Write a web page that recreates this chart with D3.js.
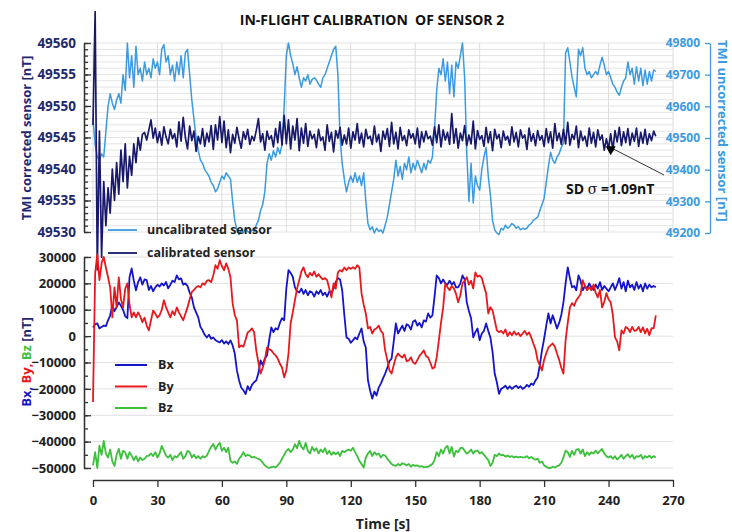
<!DOCTYPE html>
<html>
<head>
<meta charset="utf-8">
<script src="https://cdn.jsdelivr.net/npm/d3@7"></script>
<style>
    body { margin: 0; background: #ffffff; }
    svg { font-family: "Open Sans", sans-serif; font-weight: bold; }
</style>
</head>
<body>
<div id="chart"></div>
<script>

// one sample per second, t = 0 .. 262 s
const sampleStep = 1;

// TMI corrected (calibrated) sensor [nT], left axis
const calibrated = [
    49547, 49565, 49524, 49546, 49526, 49538, 49531, 49537, 49533, 49540,
    49535, 49541, 49536, 49543, 49538, 49544, 49537, 49542, 49539, 49544,
    49541, 49545, 49543, 49545.5, 49545.8, 49544.6, 49546.2, 49547.8, 49544.9, 49546.5,
    49544.2, 49545.9, 49543.8, 49546.7, 49545.1, 49544.0, 49546.3, 49544.8, 49545.6, 49543.5,
    49547.5, 49544.4, 49548.2, 49545.0, 49543.2, 49546.8, 49544.5, 49546.0, 49542.8, 49545.2,
    49544.0, 49546.4, 49543.6, 49545.7, 49544.3, 49546.9, 49543.1, 49547.0, 49544.6, 49548.3,
    49544.2, 49547.6, 49543.4, 49546.2, 49542.6, 49545.5, 49544.1, 49546.6, 49544.8, 49543.3,
    49545.9, 49544.7, 49546.3, 49543.9, 49545.2, 49544.5, 49546.1, 49548.0, 49544.3, 49545.6,
    49543.0, 49546.0, 49544.7, 49545.3, 49543.5, 49546.4, 49544.2, 49547.5, 49543.8, 49548.5,
    49544.0, 49547.8, 49543.2, 49546.8, 49544.6, 49548.0, 49542.9, 49546.5, 49544.1, 49547.2,
    49543.6, 49546.0, 49544.8, 49545.5, 49543.4, 49546.3, 49544.5, 49545.1, 49543.0, 49547.0,
    49544.4, 49545.8, 49542.7, 49546.1, 49544.9, 49546.6, 49543.8, 49545.4, 49544.0, 49546.5,
    49543.3, 49545.9, 49544.6, 49547.2, 49544.1, 49545.7, 49543.5, 49546.3, 49544.8, 49545.2,
    49543.9, 49546.8, 49544.3, 49545.5, 49542.8, 49546.0, 49544.7, 49546.4, 49543.6, 49547.4,
    49544.0, 49545.8, 49543.2, 49546.6, 49544.5, 49545.3, 49543.7, 49546.2, 49544.9, 49545.6,
    49544.0, 49546.5, 49543.4, 49545.9, 49544.3, 49546.0, 49544.8, 49545.2, 49543.8, 49546.7,
    49544.2, 49547.0, 49543.5, 49546.2, 49544.6, 49545.8, 49543.9, 49548.8, 49544.1, 49546.4,
    49543.3, 49545.7, 49544.5, 49546.9, 49543.7, 49545.4, 49544.0, 49547.6, 49543.2, 49546.1,
    49544.7, 49545.3, 49543.6, 49546.6, 49544.2, 49545.9, 49542.9, 49546.3, 49544.8, 49545.5,
    49543.4, 49546.0, 49544.6, 49545.2, 49543.8, 49546.7, 49544.3, 49545.8, 49543.5, 49546.2,
    49544.9, 49545.4, 49543.1, 49546.5, 49544.4, 49545.6, 49543.7, 49546.1, 49544.6, 49545.3,
    49543.6, 49546.4, 49544.2, 49545.9, 49543.3, 49547.2, 49544.5, 49545.7, 49543.9, 49546.3,
    49544.0, 49547.4, 49543.8, 49545.5, 49544.7, 49546.8, 49543.4, 49546.0, 49544.5, 49545.2,
    49543.6, 49546.5, 49544.1, 49545.8, 49543.5, 49546.2, 49544.6, 49545.4, 49543.0, 49544.8,
    49543.2, 49545.6, 49542.9, 49546.1, 49544.3, 49546.6, 49543.7, 49545.9, 49544.2, 49546.4,
    49543.8, 49545.7, 49544.4, 49546.5, 49543.6, 49545.8, 49544.1, 49546.3, 49543.9, 49545.6,
    49544.5, 49546.0, 49545.2
];

// TMI uncorrected (uncalibrated) sensor [nT], right axis
const uncalibrated = [
    49560, 49480, 49440, 49430, 49450, 49440, 49520, 49600, 49640, 49610,
    49590, 49620, 49640, 49610, 49700, 49650, 49800, 49690, 49760, 49660,
    49790, 49700, 49720, 49680, 49740, 49700, 49720, 49690, 49750, 49720,
    49740, 49700, 49780, 49795, 49740, 49760, 49700, 49730, 49680, 49740,
    49700, 49760, 49690, 49770, 49780, 49700, 49620, 49560, 49500, 49460,
    49430, 49420, 49400, 49390, 49380, 49360, 49350, 49330, 49340, 49360,
    49380, 49370, 49390, 49380, 49370, 49300, 49240, 49210, 49195, 49210,
    49200, 49215, 49205, 49200, 49210, 49205, 49225, 49240, 49270, 49290,
    49330, 49420, 49450, 49430, 49460, 49440, 49470, 49450, 49480, 49600,
    49760, 49800, 49760, 49735, 49700, 49725, 49690, 49660, 49690, 49680,
    49700, 49670, 49685, 49690, 49683, 49670, 49660, 49690, 49700, 49720,
    49740, 49760, 49780, 49790, 49700, 49500, 49420, 49370, 49330, 49360,
    49380, 49360, 49390, 49360, 49380, 49350, 49390, 49300, 49230, 49210,
    49220, 49200, 49215, 49205, 49210, 49200, 49225, 49250, 49290, 49330,
    49370, 49430, 49380, 49410, 49370, 49420, 49400, 49440, 49390, 49420,
    49400, 49430, 49410, 49390, 49420, 49400, 49430, 49420, 49440, 49530,
    49650, 49720, 49700, 49750, 49680, 49740, 49640, 49730, 49630, 49740,
    49720, 49760, 49800, 49690, 49450, 49300, 49420, 49295, 49380, 49350,
    49335, 49400, 49440, 49470, 49380, 49320, 49240, 49210, 49200, 49195,
    49215, 49210, 49225, 49215, 49220, 49230, 49225, 49215, 49220, 49210,
    49215, 49212, 49215, 49225, 49230, 49240, 49245, 49250, 49270, 49290,
    49310, 49360, 49410, 49455, 49430, 49420, 49440, 49450, 49470, 49485,
    49768, 49785, 49740, 49692, 49660, 49630, 49780, 49760, 49785, 49720,
    49700, 49710, 49690, 49700, 49710, 49700, 49730, 49755, 49730, 49700,
    49710, 49690, 49670, 49660, 49645, 49635, 49660, 49680, 49690, 49740,
    49700, 49720, 49670, 49725, 49680, 49720, 49665, 49715, 49670, 49710,
    49680, 49715, 49710
];

// magnetic field components [nT]
const bx = [
    3300, 4500, 4800, 2900, 3500, 4000, 3800, 6000, 7900, 11700,
    9500, 11000, 12800, 11500, 10000, 7500, 6800, 22300, 25700, 21000,
    17400, 20500, 22300, 19500, 21500, 21200, 17500, 19000, 17000, 18500,
    19500, 18800, 20000, 19200, 20500, 18100, 19500, 21000, 20500, 23000,
    21500, 21900, 19500, 20000, 19000, 16500, 14700, 10900, 9000, 7100,
    3500, 2200, 500, -500, 500, -1000, -500, -1500, -2000, -2400,
    -1500, -2800, -2000, -3000, -1600, -3500, -6600, -13000, -16800, -19500,
    -20500, -22000, -19000, -20500, -18500, -17500, -16800, -14000, -9200, -11000,
    -8500, -7300, -1600, 3300, 1500, 3000, 2500, 5000, 6800, 6000,
    18000, 25000, 24000, 22500, 18500, 17000, 16500, 18000, 16000, 17500,
    15500, 17000, 16500, 15000, 17000, 16000, 17500, 15500, 16500, 15000,
    17000, 16500, 18000, 20500, 22000, 21500, 17400, 8000, -500, -1000,
    -2500, -1600, -500, -1200, 1000, 2900, -2000, -4300, -16800, -20600,
    -23700, -21000, -22500, -19500, -18000, -16000, -14200, -12000, -9500, -8500,
    -2000, 4800, 1000, 2500, 4000, 2000, 4500, 4000, 2500, 5500,
    6000, 4000, 5000, 3300, 6000, 5500, 8600, 7000, 7900, 15000,
    23000, 22000, 20000, 21500, 20000, 19500, 21000, 19500, 20500, 18500,
    18500, 20000, 23000, 21500, 12800, 9500, 6800, -500, 1500, 2900,
    -1600, 1000, 2000, 4800, 2000, -500, -6000, -14200, -17500, -21900,
    -20000, -19500, -18800, -20000, -19000, -20000, -19300, -18800, -19700, -19000,
    -20000, -19500, -18500, -19200, -18000, -18500, -16800, -15600, -11000, -5400,
    -1000, 4000, 8600, 4800, 7900, 5500, 2900, 5000, 8000, 12800,
    20000, 26100, 22000, 18500, 19000, 17400, 23000, 21000, 17400, 19000,
    18000, 20000, 18500, 17500, 19500, 18000, 20500, 17500, 19000, 18000,
    17000, 18500, 20000, 17500, 19500, 22000, 18000, 20500, 17000, 21000,
    18500, 19500, 17500, 20500, 18000, 19500, 17000, 20000, 18000, 19500,
    18500, 19000, 18500
];

const by = [
    -25000, 23800, 31000, 21200, 27600, 30000, 26000, 22300, 18500, 7100,
    18500, 10900, 22300, 14000, 10900, 18000, 20000, 12000, 7100, 9000,
    7100, 9000, 7500, 5300, 7000, 4000, 2200, 6000, 9700, 8500,
    7000, 7900, 10000, 13600, 11000, 9000, 7100, 9500, 8000, 10900,
    9000, 7500, 6000, 8500, 10900, 14000, 16700, 17500, 18500, 19000,
    18500, 20000, 19500, 21000, 21200, 20500, 23000, 26900, 25500, 28800,
    26500, 25000, 27600, 25500, 22300, 12400, 8000, 6000, -4300, -3500,
    -4000, -1500, 1400, 2000, 2900, 1500, -5400, -10000, -14200, -12000,
    -9200, -4300, -5000, -5400, -6500, -7300, -8500, -10500, -11900, -15600,
    -13000, -6600, 4800, 9000, 13600, 18000, 21200, 24500, 26100, 23500,
    22300, 24000, 23000, 24500, 22500, 23500, 22300, 21500, 22000, 21200,
    18000, 14700, 20000, 18000, 24200, 25000, 24500, 26000, 25000, 26000,
    25500, 26100, 25500, 26900, 26000, 16300, 12000, 8600, 2900, 3500,
    1000, 2500, 3000, 4000, 2000, 1000, -5400, -9000, -13000, -14200,
    -11000, -8000, -6600, -7500, -8100, -7000, -9500, -9200, -8000, -10000,
    -10500, -9000, -7500, -6500, -5400, -7500, -8100, -10000, -12300, -11900,
    -8000, -1600, 5000, 10900, 20000, 18500, 17400, 19000, 18100, 16000,
    12800, 15500, 20000, 21000, 22300, 19500, 21000, 18100, 24200, 22500,
    23000, 22000, 19000, 16300, 8600, 11000, 9700, 6000, 2200, 1500,
    2000, 1000, 2500, 0, 1500, 300, 1800, 500, 1200, 0,
    1000, 2000, 500, 1400, -500, -2800, -5000, -9200, -11000, -13000,
    -9000, -6500, -4300, -3500, -2800, -4000, -6600, -9000, -12000, -14200,
    -1600, 5000, 10900, 12500, 11500, 13600, 14700, 16000, 21200, 19000,
    17400, 18500, 17400, 19500, 16500, 14700, 17500, 10900, 13000, 16300,
    14000, 12800, 8000, -500, -2000, -5400, 2200, 1000, 3500, 2900,
    1500, 3500, 2000, 2200, 3500, 1500, 3300, 1000, 2800, 300,
    3000, 2900, 7900
];

const bz = [
    -49000, -44000, -50000, -41500, -45000, -39700, -44500, -46000, -43000, -47500,
    -49200, -45000, -42700, -46500, -43500, -44000, -46500, -44000, -45300, -47000,
    -45500, -47500, -46000, -47000, -46500, -45500, -45300, -44500, -45500, -44000,
    -46000, -44500, -41600, -43500, -45300, -46000, -45000, -47000, -45500, -46000,
    -45000, -44000, -46500, -45500, -43500, -44000, -46000, -45000, -46300, -45500,
    -46500, -45500, -46000, -45300, -43500, -42000, -40900, -43000, -41500, -40400,
    -43500, -42300, -44000, -42300, -47300, -48000, -47500, -48400, -46500, -45500,
    -44000, -45500, -45000, -45300, -46000, -45800, -46200, -46500, -47000, -48000,
    -49000, -49600, -50000, -49700, -49500, -49800, -49000, -48000, -46500, -45000,
    -43500, -42800, -44000, -43000, -41000, -42500, -39700, -42000, -43000, -40500,
    -43500, -44500, -42000, -43500, -42500, -44500, -43000, -44000, -42500, -44700,
    -43500, -45000, -44000, -44800, -44000, -45500, -43500, -44000, -43400, -43000,
    -43500, -42300, -44000, -45500, -47300, -48500, -49800, -46000, -44500, -43500,
    -45500, -44000, -45000, -44500, -46000, -45000, -45300, -46500, -47500, -48500,
    -49000, -49200, -48500, -49000, -48200, -48500, -49000, -48500, -49500, -48800,
    -49200, -49000, -49500, -49300, -49700, -49700, -49500, -49000, -48500, -47000,
    -44000, -45500, -43000, -44500, -42300, -41600, -44500, -42000, -45700, -43500,
    -44000, -42500, -42300, -43500, -44500, -44000, -43000, -44500, -43500, -43400,
    -44500, -44000, -45000, -46000, -47000, -49200, -48000, -45000, -45500, -44500,
    -45200, -45000, -45700, -45300, -45800, -45500, -46000, -45700, -46000, -45800,
    -46000, -46000, -45500, -46300, -45800, -46500, -46800, -46500, -48000, -47500,
    -49000, -49500, -50000, -50000, -49500, -49800, -49300, -49000, -48000, -46000,
    -43400, -44000, -45800, -43500, -45000, -43000, -42800, -44500, -43000, -45500,
    -44000, -45000, -44000, -44500, -43400, -44500, -43500, -42800, -44500, -45500,
    -46000, -45500, -46500, -45500, -46800, -46000, -45000, -46500, -45500, -44800,
    -46000, -45000, -46500, -45500, -45800, -45000, -46500, -45500, -46000, -45300,
    -46200, -45500, -46000
];

// tick labels
const timeTicks = [0, 30, 60, 90, 120, 150, 180, 210, 240, 270];
const tmiTicks = [49530, 49535, 49540, 49545, 49550, 49555, 49560];
const rawTicks = [49200, 49300, 49400, 49500, 49600, 49700, 49800];
const fieldTicks = [-50000, -40000, -30000, -20000, -10000, 0, 10000, 20000, 30000];

const topLegend = [
    {name: "uncalibrated sensor", color: "#3b9be0"},
    {name: "calibrated sensor", color: "#18196b"}
];
const fieldLegend = [
    {name: "Bx", color: "#1414c8"},
    {name: "By", color: "#e8191c"},
    {name: "Bz", color: "#3cc03c"}
];

const width = 732;
const height = 532;
const navy = "#1f2a6e";
const lightBlue = "#3b9be0";
const axisColor = "#333333";

const time = calibrated.map(function(d, i) {return i * sampleStep;});

let svg = d3.select("#chart")
    .append("svg")
    .attr("width", width)
    .attr("height", height);

const x = d3.scaleLinear().domain([0, 270]).range([93, 673]);
const yTop = d3.scaleLinear().domain([49530, 49560]).range([232, 43]);
const yRaw = d3.scaleLinear().domain([49200, 49800]).range([233, 43]);
const yField = d3.scaleLinear().domain([-50000, 30000]).range([468, 257]);

// grid of the upper panel: a line at every nT and every 30 s
svg.append("g")
    .selectAll("line")
    .data(d3.range(49530, 49561, 1))
    .enter()
    .append("line")
    .attr("x1", 84)
    .attr("x2", x(270))
    .attr("y1", function(d) {return yTop(d);})
    .attr("y2", function(d) {return yTop(d);})
    .attr("stroke", "#e4e4e4");

svg.append("g")
    .selectAll("line")
    .data(timeTicks)
    .enter()
    .append("line")
    .attr("x1", function(d) {return x(d);})
    .attr("x2", function(d) {return x(d);})
    .attr("y1", yTop(49560))
    .attr("y2", yTop(49530))
    .attr("stroke", "#dcdcdc");

// grid of the lower panel
svg.append("g")
    .selectAll("line")
    .data(fieldTicks)
    .enter()
    .append("line")
    .attr("x1", 84)
    .attr("x2", x(270))
    .attr("y1", function(d) {return yField(d);})
    .attr("y2", function(d) {return yField(d);})
    .attr("stroke", "#e0e0e0");

function styleAxis(g, color, size, lineColor) {
    g.selectAll("path, line").attr("stroke", lineColor || axisColor).attr("stroke-width", 1.3);
    g.selectAll("text")
        .attr("fill", color)
        .style("font-size", size + "px")
        .style("font-weight", "bold")
        .style("font-family", "'Open Sans', sans-serif");
}

// left axis, upper panel
svg.append("g")
    .attr("transform", "translate(84,0)")
    .call(d3.axisLeft(yTop).tickValues(d3.range(49530, 49561, 1)).tickSize(-4).tickSizeOuter(0).tickFormat(""))
    .call(styleAxis, navy, 13);
svg.append("g")
    .attr("transform", "translate(84,0)")
    .call(d3.axisLeft(yTop).tickValues(tmiTicks).tickSize(-7).tickSizeOuter(0).tickPadding(8).tickFormat(d3.format("d")))
    .call(styleAxis, navy, 13.5);

// right axis, upper panel (labels sit left of the axis line)
svg.append("g")
    .attr("transform", "translate(710,0)")
    .call(d3.axisLeft(yRaw).tickValues(rawTicks).tickSize(5).tickSizeOuter(0).tickPadding(5).tickFormat(d3.format("d")))
    .call(styleAxis, lightBlue, 12, lightBlue);

// left axis, lower panel
svg.append("g")
    .attr("transform", "translate(84,0)")
    .call(d3.axisLeft(yField).tickValues(d3.range(-50000, 30001, 5000)).tickSize(-4).tickSizeOuter(0).tickFormat(""))
    .call(styleAxis, "#222", 13);
svg.append("g")
    .attr("transform", "translate(84,0)")
    .call(d3.axisLeft(yField).tickValues(fieldTicks).tickSize(-7).tickSizeOuter(0).tickPadding(8).tickFormat(d3.format("d")))
    .call(styleAxis, "#222", 13);

// time axis
svg.append("g")
    .attr("transform", "translate(0,480)")
    .call(d3.axisBottom(x).tickValues(timeTicks).tickSize(7).tickSizeOuter(0).tickPadding(9))
    .call(styleAxis, "#222", 13);

// series
function lineOf(scale) {
    return d3.line()
        .x(function(d, i) {return x(time[i]);})
        .y(function(d) {return scale(d);});
}

svg.append("path")
    .datum(uncalibrated)
    .attr("d", lineOf(yRaw))
    .attr("fill", "none")
    .attr("stroke", lightBlue)
    .attr("stroke-width", 1.5)
    .attr("stroke-linejoin", "round");

svg.append("path")
    .datum(calibrated)
    .attr("d", lineOf(yTop))
    .attr("fill", "none")
    .attr("stroke", "#18196b")
    .attr("stroke-width", 1.7)
    .attr("stroke-linejoin", "round");

const fieldSeries = [
    {values: bz, color: fieldLegend[2].color},
    {values: bx, color: fieldLegend[0].color},
    {values: by, color: fieldLegend[1].color}
];
svg.selectAll("path.field")
    .data(fieldSeries)
    .enter()
    .append("path")
    .attr("class", "field")
    .attr("d", function(d) {return lineOf(yField)(d.values);})
    .attr("fill", "none")
    .attr("stroke", function(d) {return d.color;})
    .attr("stroke-width", 1.8)
    .attr("stroke-linejoin", "round");

// legends
let lt = svg.append("g")
    .selectAll("g")
    .data(topLegend)
    .enter()
    .append("g")
    .attr("transform", function(d, i) {return "translate(108," + (230 + i * 23) + ")";});
lt.append("line")
    .attr("x1", 0).attr("x2", 29)
    .attr("stroke", function(d) {return d.color;})
    .attr("stroke-width", 1.8);
lt.append("text")
    .attr("x", 39)
    .attr("dy", "0.35em")
    .attr("fill", "#222")
    .style("font-size", "12.5px")
    .text(function(d) {return d.name;});

let lb = svg.append("g")
    .selectAll("g")
    .data(fieldLegend)
    .enter()
    .append("g")
    .attr("transform", function(d, i) {return "translate(115," + (365 + i * 21.5) + ")";});
lb.append("line")
    .attr("x1", 0).attr("x2", 32)
    .attr("stroke", function(d) {return d.color;})
    .attr("stroke-width", 2);
lb.append("text")
    .attr("x", 43)
    .attr("dy", "0.35em")
    .attr("fill", "#222")
    .style("font-size", "12.5px")
    .text(function(d) {return d.name;});

// titles
svg.append("text")
    .attr("x", 372)
    .attr("y", 25)
    .attr("text-anchor", "middle")
    .attr("fill", "#111")
    .style("font-size", "14px")
    .style("white-space", "pre")
    .text("IN-FLIGHT CALIBRATION  OF SENSOR 2");

svg.append("text")
    .attr("transform", "translate(31,138) rotate(-90)")
    .attr("text-anchor", "middle")
    .attr("fill", navy)
    .style("font-size", "13px")
    .text("TMI corrected sensor [nT]");

svg.append("text")
    .attr("transform", "translate(718,40) rotate(90)")
    .attr("text-anchor", "start")
    .attr("fill", lightBlue)
    .style("font-size", "13px")
    .text("TMI uncorrected sensor [nT]");

let ft = svg.append("text")
    .attr("transform", "translate(31,362) rotate(-90)")
    .attr("text-anchor", "middle")
    .style("font-size", "13px")
    .style("white-space", "pre");
ft.append("tspan").attr("fill", fieldLegend[0].color).text("Bx,\u00a0");
ft.append("tspan").attr("fill", fieldLegend[1].color).text("By,\u00a0");
ft.append("tspan").attr("fill", fieldLegend[2].color).text("Bz\u00a0");
ft.append("tspan").attr("fill", navy).text("[nT]");

svg.append("text")
    .attr("x", 383)
    .attr("y", 529)
    .attr("text-anchor", "middle")
    .attr("fill", "#222")
    .style("font-size", "14px")
    .text("Time [s]");

// standard deviation note with arrow to the calibrated trace
const tipX = x(241);
const tipY = yTop(49542.2);
svg.append("path")
    .attr("d", "M" + tipX + "," + tipY + "L" + (tipX - 5) + "," + (tipY - 9) + "L" + (tipX + 5) + "," + (tipY - 9) + "Z")
    .attr("fill", "#000");
svg.append("line")
    .attr("x1", tipX + 3)
    .attr("y1", tipY - 6)
    .attr("x2", 664)
    .attr("y2", 175)
    .attr("stroke", "#333")
    .attr("stroke-width", 1);

let sd = svg.append("text")
    .attr("x", 566)
    .attr("y", 194)
    .attr("fill", "#111")
    .style("font-size", "14px")
    .style("white-space", "pre");
sd.append("tspan").text("SD\u00a0");
sd.append("tspan").style("font-family", "'DejaVu Serif', serif").style("font-weight", "normal").text("σ");
sd.append("tspan").text("\u00a0=1.09nT");

</script>
</body>
</html>
